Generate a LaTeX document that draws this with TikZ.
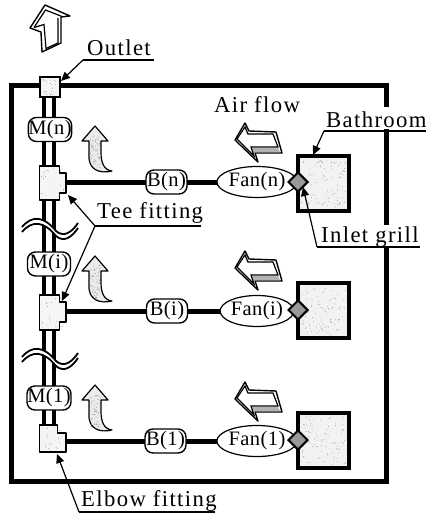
\documentclass[tikz,border=0pt]{standalone}
\usepackage{fontspec}
\setmainfont[LetterSpace=6]{Liberation Serif}
\newfontfamily\smallserif[LetterSpace=2]{Liberation Serif}
\usetikzlibrary{shapes.geometric,arrows.meta}
\newcommand{\speckle}[5]{% x1 y1 x2 y2 n
  \foreach \k in {1,...,#5}{
    \pgfmathsetmacro{\px}{#1+rnd*(#3-#1)}
    \pgfmathsetmacro{\py}{#2+rnd*(#4-#2)}
    \fill[black!60] (\px,\py) circle (0.35);
  }}
\tikzset{
  x=1pt,y=-1pt,
  wall/.style={line width=5pt,line cap=rect,line join=miter},
  pipeline/.style={line width=4.6pt},
  branch/.style={line width=5pt},
  box/.style={draw=black,line width=1.4pt,fill=white,rounded corners=8pt,inner sep=0pt,minimum height=24pt,font=\fontsize{20.5}{20.5}\smallserif},
  fan/.style={draw=black,line width=1.2pt,fill=white,ellipse,inner sep=0pt,minimum width=63pt,minimum height=31pt,font=\fontsize{20.5}{20.5}\smallserif},
  grill/.style={diamond,draw=black,line width=2pt,fill=black!40,inner sep=0pt,minimum width=20pt,minimum height=20pt},
  room/.style={draw=black,line width=4.4pt,fill=black!5,minimum width=51pt,minimum height=55pt,inner sep=0pt},
  caption/.style={anchor=base west,inner sep=0pt,font=\fontsize{22.7}{22.7}\selectfont},
  leader/.style={line width=1.2pt},
  tipped/.style={leader,-{Triangle[length=9pt,width=8pt]}},
  fitting/.style={draw=black,line width=1.5pt,fill=black!4,line join=round},
  hollow/.style={draw=black,line width=1.4pt,fill=white,line join=round},
  swoop/.style={draw=black,line width=1.2pt,fill=black!8,line join=round},
  band/.style={line width=1.8pt},
}
\begin{document}
\begin{tikzpicture}
\useasboundingbox (0,0) rectangle (426,516);
\pgfmathsetseed{17}
% frame
\coordinate (wallA) at (386,105);
\coordinate (wallB) at (386,86);
\coordinate (wallC) at (11,86);
\coordinate (wallD) at (11,481);
\coordinate (wallE) at (386,481);
\coordinate (wallF) at (386,248);
\coordinate (wallG) at (386,222);
\coordinate (wallH) at (386,131);
\draw[wall] (wallA) -- (wallB) -- (wallC) -- (wallD) -- (wallE) -- (wallF);
\draw[wall] (wallG) -- (wallH);
% main pipe
\coordinate (pipeTopL) at (44,97);
\coordinate (pipeTopR) at (54,97);
\coordinate (pipeBotL) at (44,426);
\coordinate (pipeBotR) at (54,426);
\draw[pipeline] (pipeTopL) -- (pipeBotL);
\draw[pipeline] (pipeTopR) -- (pipeBotR);
% breaks
\foreach \dy in {0,130}{
  \begin{scope}[shift={(0,\dy)}]
    \fill[white] (22,229) .. controls (32,217) and (44,218) .. (56,233) .. controls (64,240) and (72,234) .. (78,225) -- (78,226) .. controls (72,235) and (64,241) .. (56,234) .. controls (44,219) and (32,218) .. (22,230) -- cycle;
    \fill[white] (22,227) .. controls (32,215) and (44,216) .. (56,231) .. controls (64,238) and (72,232) .. (78,223) -- (78,228) .. controls (72,237) and (64,243) .. (56,236) .. controls (44,221) and (32,220) .. (22,232) -- cycle;
    \draw[band] (22,227) .. controls (32,215) and (44,216) .. (56,231) .. controls (64,238) and (72,232) .. (78,223);
    \draw[band] (22,232) .. controls (32,220) and (44,221) .. (56,236) .. controls (64,243) and (72,237) .. (78,228);
  \end{scope}
}
% outlet
\node[draw=black,line width=1.5pt,fill=black!4,minimum width=20pt,minimum height=20pt,inner sep=0pt] (outlet) at (50,87) {};
\speckle{42}{79}{58}{95}{20}
% tee and elbow fittings
\draw[fitting] (39.5,166) -- (59.5,166) -- (59.5,173) -- (66,173) -- (66,193) -- (59.5,193) -- (59.5,200) -- (39.5,200) -- cycle;
\speckle{41}{168}{64}{198}{20}
\coordinate (teeN) at (66,182);
\draw[fitting] (39.5,295) -- (59.5,295) -- (59.5,302) -- (66,302) -- (66,322) -- (59.5,322) -- (59.5,330) -- (39.5,330) -- cycle;
\speckle{41}{297}{64}{328}{20}
\coordinate (teeI) at (66,311);
\draw[fitting] (39.5,425) -- (57.5,425) -- (57.5,433) -- (66,433) -- (66,452) -- (39.5,452) -- cycle;
\speckle{41}{427}{64}{450}{20}
\coordinate (teeO) at (66,441);
% mains
\node[box,minimum width=43pt] (mn) at (50,129.5) {M(n)};
\node[box,minimum width=43pt] (mi) at (49,264) {M(i)};
\node[box,minimum width=44pt] (mo) at (49,398) {M(1)};
% branches
\coordinate (bnc) at (166.5,182);
\coordinate (bic) at (167,311);
\coordinate (boc) at (165.5,441);
\coordinate (fnc) at (257,182);
\coordinate (fic) at (257,311);
\coordinate (foc) at (257,441);
\draw[branch] (teeN) -- (fnc);
\draw[branch] (teeI) -- (fic);
\draw[branch] (teeO) -- (foc);
\node[box,minimum width=41pt] (bn) at (bnc) {B(n)};
\node[box,minimum width=41pt] (bi) at (bic) {B(i)};
\node[box,minimum width=41pt] (bo) at (boc) {B(1)};
\node[fan] (fn) at (fnc) {Fan(n)};
\node[fan] (fi) at (fic) {Fan(i)};
\node[fan] (fo) at (foc) {Fan(1)};
% bathrooms
\node[room] (rn) at (323.5,183.5) {};
\speckle{301}{159}{346}{208}{90}
\node[room] (ri) at (323.5,310.5) {};
\speckle{301}{286}{346}{335}{90}
\node[room] (ro) at (323.5,440.5) {};
\speckle{301}{416}{346}{465}{90}
\node[grill] (gn) at (298,182) {};
\node[grill] (gi) at (298,310) {};
\node[grill] (go) at (298,440) {};
% top hollow arrow
\draw[hollow] (30,28) -- (45,5) -- (70,16) -- (61,17) -- (61,43) -- (42,52) -- (41,32) -- cycle;
\draw[leader] (34,27.5) -- (45.5,10) -- (62,16.5);
\draw[leader] (34,27.5) -- (44,24.5) -- (46,48.5) -- (58,43) -- (58,18);
% curved up arrows
\foreach \dy in {0,130,259}{
  \begin{scope}[shift={(0,\dy)}]
    \draw[swoop] (95,126) -- (108,141) -- (101,141) -- (101,152) .. controls (101,163) and (104,170) .. (112,171) .. controls (100,174) and (88,170) .. (89,155) -- (89,141) -- (82,141) -- cycle;
    \speckle{90}{135}{100}{168}{55}
  \end{scope}
}
% air flow arrows
\foreach \dy in {0,128,259}{
  \begin{scope}[shift={(0,\dy)}]
    \draw[hollow] (235,140) -- (245,123) -- (249,131) -- (276,132) -- (282,153) -- (255,153) -- (258,162) -- cycle;
    \fill[black!30] (237,141) -- (253,155) -- (251,148) -- (278,148) -- (280,152) -- (254,152) -- (256,159) -- cycle;
    \draw[leader] (237,139) -- (245,127) -- (248,134) -- (273,134) -- (278,147) -- (251,147) -- (254,156) -- cycle;
  \end{scope}
}
% labels
\node[caption] (lOutlet) at (87,56) {Outlet};
\node[caption] (lAir) at (214,113) {Air flow};
\node[caption] (lBath) at (326,127) {Bathroom};
\node[caption] (lTee) at (97,218) {Tee fitting};
\node[caption] (lInlet) at (321,242) {Inlet grill};
\node[caption] (lElbow) at (81,506) {Elbow fitting};
% leaders
\coordinate (uOutA) at (154,60);
\coordinate (uOutB) at (83,60);
\coordinate (tipOut) at (61,81);
\draw[leader] (uOutA) -- (uOutB);
\draw[tipped] (uOutB) -- (tipOut);
\coordinate (uBathA) at (426,131);
\coordinate (uBathB) at (324,131);
\coordinate (tipBath) at (313,155);
\draw[leader] (uBathA) -- (uBathB);
\draw[tipped] (uBathB) -- (tipBath);
\coordinate (uInA) at (420,247);
\coordinate (uInB) at (317,247);
\coordinate (tipIn) at (303,187);
\draw[leader] (uInA) -- (uInB);
\draw[tipped] (uInB) -- (tipIn);
\coordinate (uTeeA) at (201,226);
\coordinate (uTeeB) at (95,226);
\coordinate (tipTeeN) at (68,195);
\coordinate (tipTeeI) at (62,301);
\draw[leader] (uTeeA) -- (uTeeB);
\draw[tipped] (uTeeB) -- (tipTeeN);
\draw[tipped] (uTeeB) -- (tipTeeI);
\coordinate (uElbA) at (215,512);
\coordinate (uElbB) at (79,512);
\coordinate (tipElb) at (57,454);
\draw[leader] (uElbA) -- (uElbB);
\draw[tipped] (uElbB) -- (tipElb);
\end{tikzpicture}
\end{document}
